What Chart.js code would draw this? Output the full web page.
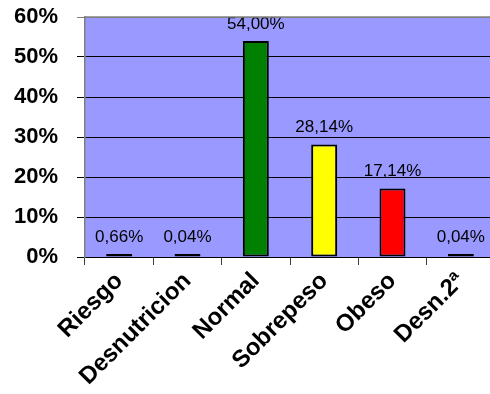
<!DOCTYPE html>
<html>
<head>
<meta charset="utf-8">
<script src="https://cdn.jsdelivr.net/npm/chart.js@4"></script>
<style>
  html, body { margin: 0; padding: 0; background: #ffffff; overflow: hidden; }
  #wrap { width: 496px; height: 394px; }
</style>
</head>
<body>
<div id="wrap"><canvas id="c" width="496" height="394"></canvas></div>
<script>
// Distribución por estado nutricional (%)
const categories = ['Riesgo', 'Desnutricion', 'Normal', 'Sobrepeso', 'Obeso', 'Desn.2ª'];
const percentages = [0.66, 0.04, 54.00, 28.14, 17.14, 0.04];
const barColors = ['#000000', '#000000', '#008000', '#FFFF00', '#FF0000', '#000000'];
const yTicks = [0, 10, 20, 30, 40, 50, 60];

const FONT = '"Liberation Sans", Arial, sans-serif';

// Lavender plot background plus grey top frame line
const plotFrame = {
  id: 'plotFrame',
  beforeDraw(chart) {
    const { ctx, chartArea: a } = chart;
    ctx.save();
    ctx.fillStyle = '#9999FF';
    ctx.fillRect(a.left, a.top, a.right - a.left, a.bottom - a.top);
    ctx.restore();
  },
  afterDraw(chart) {
    const { ctx, chartArea: a } = chart;
    ctx.save();
    ctx.strokeStyle = '#808080';
    ctx.lineWidth = 1.5;
    ctx.beginPath();
    ctx.moveTo(a.left, a.top);
    ctx.lineTo(a.right, a.top);
    ctx.stroke();
    ctx.restore();
  }
};

// Percentage labels above each bar, decimal comma
const valueLabels = {
  id: 'valueLabels',
  afterDatasetsDraw(chart) {
    const { ctx } = chart;
    const meta = chart.getDatasetMeta(0);
    const data = chart.data.datasets[0].data;
    ctx.save();
    ctx.font = '17px ' + FONT;
    ctx.fillStyle = '#000000';
    ctx.textAlign = 'center';
    ctx.textBaseline = 'alphabetic';
    meta.data.forEach((bar, i) => {
      const txt = data[i].toFixed(2).replace('.', ',') + '%';
      ctx.fillText(txt, bar.x, bar.y - 12);
    });
    ctx.restore();
  }
};

new Chart(document.getElementById('c'), {
  type: 'bar',
  data: {
    labels: categories,
    datasets: [{
      data: percentages,
      backgroundColor: barColors,
      borderColor: '#000000',
      borderWidth: 2,
      borderSkipped: false,
      minBarLength: 3,
      barPercentage: 0.38,
      categoryPercentage: 1.0
    }]
  },
  options: {
    responsive: false,
    animation: false,
    devicePixelRatio: 1,
    layout: { padding: { top: 17, right: 1, left: 0, bottom: 0 } },
    plugins: {
      legend: { display: false },
      tooltip: { enabled: false }
    },
    scales: {
      x: {
        grid: {
          display: true,
          drawOnChartArea: false,
          drawTicks: true,
          tickLength: 8,
          color: '#404040',
          offset: true
        },
        border: { display: true, color: '#000000', width: 1 },
        ticks: {
          autoSkip: false,
          minRotation: 45,
          maxRotation: 45,
          padding: 2,
          color: '#000000',
          font: { family: FONT, size: 24, weight: 'bold' }
        },
        afterFit(scale) { scale.height = 137; }
      },
      y: {
        min: 0,
        max: 60,
        afterBuildTicks(scale) {
          scale.ticks = yTicks.map(v => ({ value: v }));
        },
        grid: {
          color: ctx => (ctx.tick && ctx.tick.value === 60) ? '#808080' : '#000000',
          lineWidth: 1,
          drawTicks: true,
          tickLength: 8
        },
        border: { display: true, color: '#808080', width: 1.5 },
        ticks: {
          padding: 19,
          color: '#000000',
          font: { family: FONT, size: 22, weight: 'bold' },
          callback: v => v + '%'
        },
        afterFit(scale) {
          scale.width = 85;
          scale.paddingTop = 0;
          scale.paddingBottom = 0;
        }
      }
    }
  },
  plugins: [plotFrame, valueLabels]
});
</script>
</body>
</html>
